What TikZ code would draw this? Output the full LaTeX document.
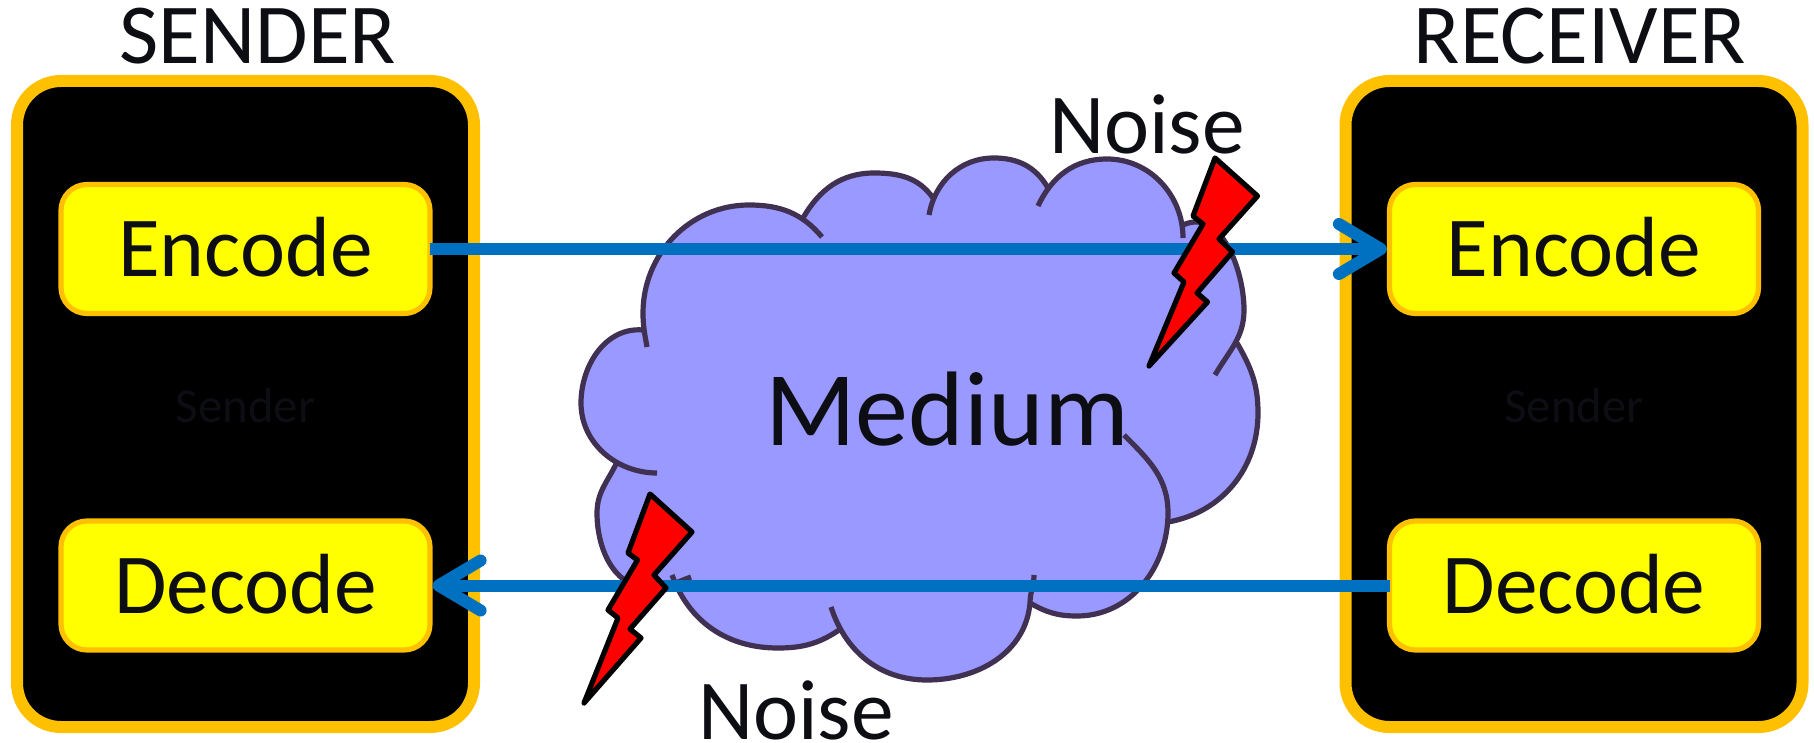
\documentclass[tikz,border=0pt]{standalone}
\usepackage{fontspec}
\setmainfont{Carlito}
\usetikzlibrary{arrows.meta}
\definecolor{orangeC}{HTML}{FFC000}
\definecolor{yellowC}{HTML}{FFFF00}
\definecolor{redC}{HTML}{FF0000}
\definecolor{blueC}{HTML}{0070C0}
\definecolor{cloudF}{HTML}{9999FF}
\definecolor{cloudL}{HTML}{403152}
\definecolor{inkC}{HTML}{0D0D14}
\tikzset{
  x=0.5pt,y=-0.5pt,
  outerbox/.style={draw=orangeC,fill=black,line width=6pt,rounded corners=22pt,minimum width=228.5pt,minimum height=323pt,inner sep=0pt},
  innerbox/.style={draw=orangeC,fill=yellowC,line width=2.6pt,rounded corners=13pt,minimum width=184.5pt,minimum height=64.5pt,inner sep=0pt,text=inkC,font=\fontsize{42.7}{50}\selectfont,text height=28pt,text depth=0pt},
  lbl/.style={anchor=base,inner sep=0pt,text=inkC,font=\fontsize{42.7}{50}\selectfont,text depth=0pt},
  faint/.style={anchor=base,inner sep=0pt,text=inkC,font=\fontsize{24.4}{28}\selectfont},
  flow/.style={draw=blueC,line width=6pt,-{Straight Barb[length=21pt,width=25pt,round]}},
  lobe/.style={draw=cloudL,line width=2.6pt,line cap=butt},
  lobefill/.style={fill=cloudF,draw=cloudF,line width=1pt},
  bolt/.style={draw=black,fill=redC,line width=2.6pt,line join=round},
}
\def\lobeA{(647,347) to[out=100,in=270] (643,313) to[out=90,in=180] (749,205) to[out=0,in=130] (822,237)}
\def\lobeB{(803,218) to[out=60,in=180] (874,173) to[out=0,in=125] (933,198)}
\def\lobeC{(929,215) to[out=80,in=180] (994,158) to[out=0,in=120] (1048,188)}
\def\lobeD{(1038,206) to[out=65,in=180] (1107,159) to[out=0,in=90] (1183,238)}
\def\lobeE{(1183,225) to[out=25,in=90] (1244,310) to[out=270,in=60] (1215,375)}
\def\lobeF{(1237,343) to[out=-60,in=90] (1258,413) to[out=270,in=10] (1168,522)}
\def\lobeG{(1124,435) to[out=-45,in=90] (1168,513) to[out=270,in=0] (1077,616) to[out=180,in=-30] (1030,603)}
\def\lobeH{(1034,575) to[out=-90,in=90] (1030,603) to[out=-95,in=0] (927,680) to[out=180,in=-72] (831,607)}
\def\lobeI{(842,628) to[out=-145,in=0] (778,648) to[out=180,in=-70] (672,575)}
\def\lobeJ{(617,462) to[out=-115,in=90] (597,513) to[out=270,in=180] (650,588) to[out=0,in=200] (691,577)}
\def\lobeK{(643,330) to[out=175,in=90] (581,403) to[out=270,in=180] (657,473)}
\begin{document}
\begin{tikzpicture}
\useasboundingbox (0,0) rectangle (1814,743);
\node[outerbox] (sbox) at (245.5,404) {};
\node[outerbox] (rbox) at (1574,404) {};
\node[faint] (sf) at (245.5,422) {Sender};
\node[faint] (rf) at (1574,422) {Sender};
\node[lbl] (st) at (258,64) {SENDER};
\node[lbl] (rt) at (1580,64) {RECEIVER};
\node[innerbox] (se) at (245.5,249) {Encode};
\node[innerbox] (sd) at (245.5,585.5) {Decode};
\node[innerbox] (re) at (1574,249) {Encode};
\node[innerbox] (rd) at (1574,585.5) {Decode};
% cloud fill
\foreach \L in {\lobeA,\lobeB,\lobeC,\lobeD,\lobeE,\lobeF,\lobeG,\lobeH,\lobeI,\lobeJ,\lobeK}{\path[lobefill] \L -- cycle;}
\path[lobefill] (643,330)--(803,218)--(933,198)--(1048,188)--(1183,225)--(1237,343)--(1168,522)--(1030,603)--(842,628)--(674,580)--(617,462)--cycle;
% cloud outline
\foreach \L in {\lobeA,\lobeB,\lobeC,\lobeD,\lobeE,\lobeF,\lobeG,\lobeH,\lobeI,\lobeJ,\lobeK}{\draw[lobe] \L;}
\node[lbl,font=\fontsize{53}{60}\selectfont] (med) at (947,445) {Medium};
\node[lbl] (n1) at (1147,154) {Noise};
\node[lbl] (n2) at (796,739) {Noise};
% arrows
\draw[flow] ([xshift=-1.5pt]se.east) -- (re.west);
\draw[flow] ([xshift=1.5pt]rd.west) -- (sd.east);
% bolts
\draw[bolt] (1215,158)--(1257.5,196)--(1219,239)--(1232.5,252)--(1197,293)--(1207.5,302)--(1149,366)--(1184,282)--(1174,273)--(1203,224)--(1193,216)--cycle;
\draw[bolt] (650,494)--(692,532)--(654,575)--(666,588)--(630,629)--(641,638)--(584,703)--(618,618)--(608,610)--(637.5,560)--(628,553)--cycle;
\end{tikzpicture}
\end{document}
